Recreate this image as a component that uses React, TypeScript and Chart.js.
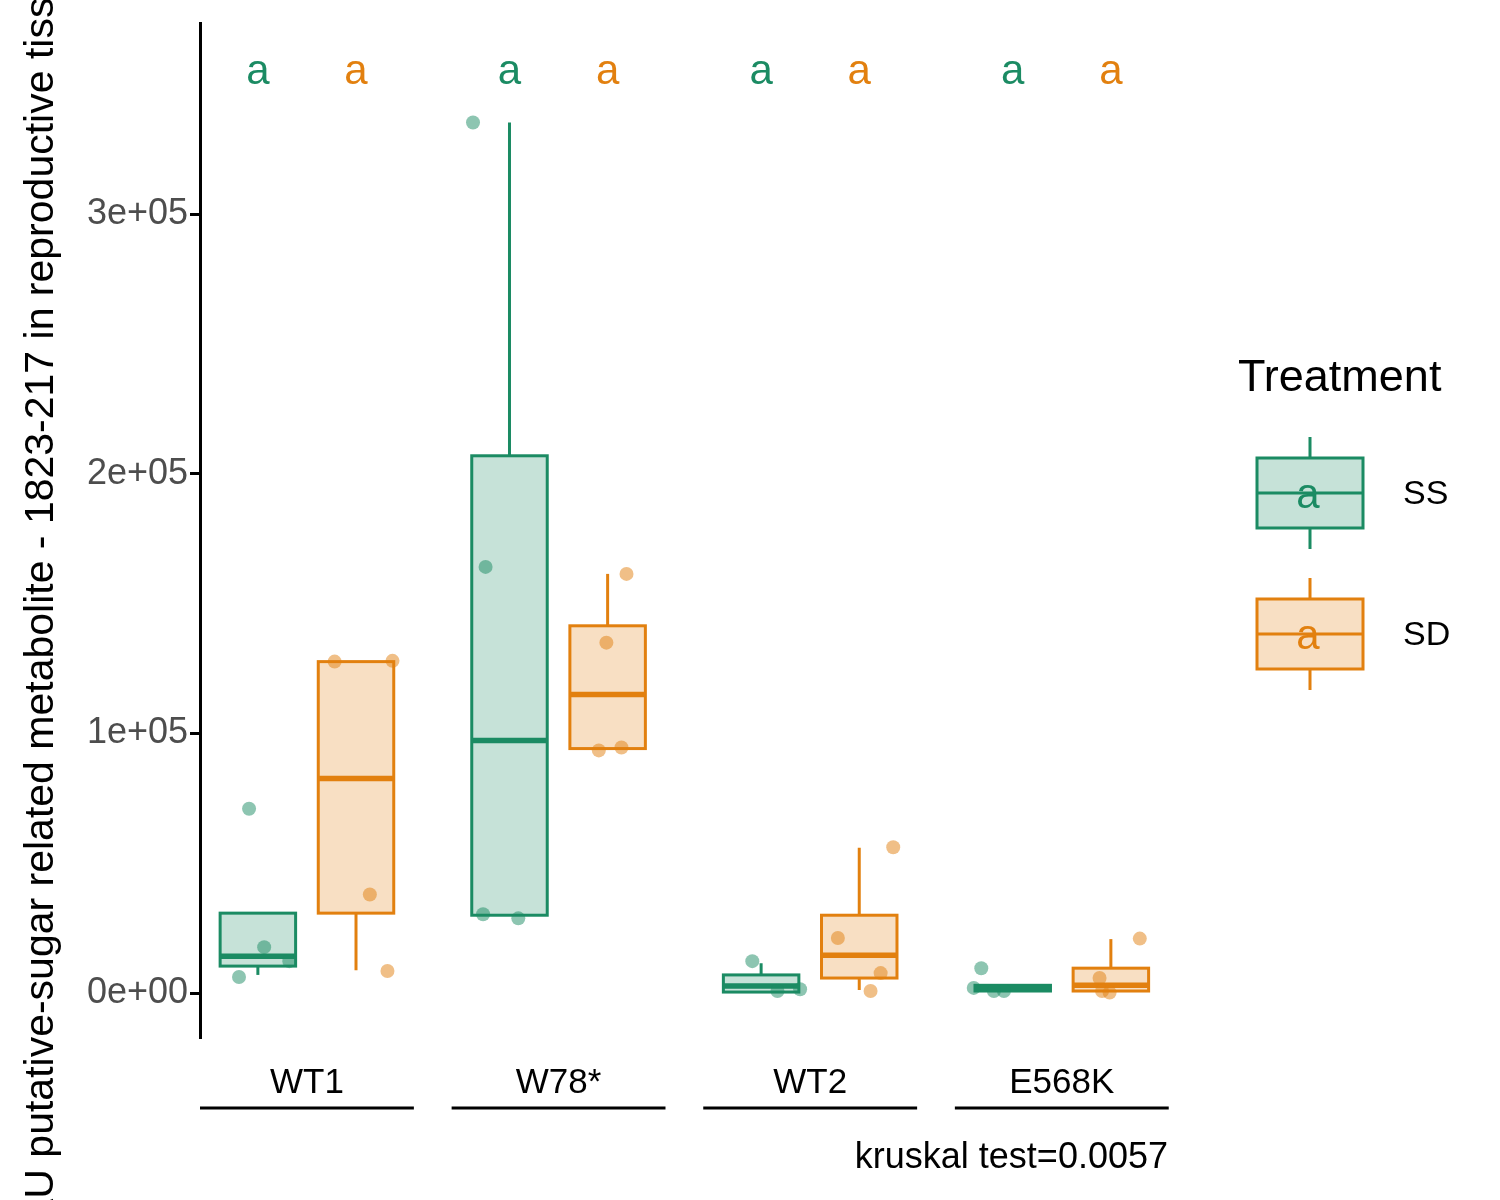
import React, { useEffect, useRef } from "react";
import { Chart, registerables } from "chart.js";
Chart.register(...registerables);

const groups = ["WT1", "W78*", "WT2", "E568K"];
const treatments = ["SS", "SD"];
const colors = ["#1B8B63", "#E2800F"];
const fills = ["rgba(27,139,99,0.25)", "rgba(226,128,15,0.25)"];
const pointColors = ["rgba(27,139,99,0.5)", "rgba(226,128,15,0.5)"];
const offsets = [-0.195, 0.195];

const ssMin = [7000, 30000, 400, 800];
const ssQ1 = [10400, 30000, 400, 800];
const ssMed = [14200, 97300, 2700, 2000];
const ssQ3 = [30800, 207000, 7000, 3000];
const ssMax = [30800, 335400, 11500, 3000];
const sdMin = [8800, 94200, 1200, 800];
const sdQ1 = [30800, 94200, 5800, 800];
const sdMed = [82700, 115000, 14600, 3000];
const sdQ3 = [127700, 141500, 30000, 9600];
const sdMax = [127700, 161500, 56000, 20800];

const ssPointsX = [0.77, 0.83, 0.73, 0.93, 1.66, 1.71, 1.70, 1.84, 2.77, 2.87, 2.96, 3.68, 3.65, 3.77, 3.73];
const ssPointsY = [71000, 17700, 6200, 12300, 335400, 164200, 30400, 28800, 12300, 800, 1500, 9600, 2000, 800, 800];
const sdPointsX = [1.11, 1.34, 1.25, 1.32, 2.27, 2.19, 2.16, 2.25, 3.33, 3.11, 3.28, 3.24, 4.31, 4.15, 4.16, 4.19];
const sdPointsY = [127700, 128000, 38000, 8500, 161500, 135000, 93500, 94600, 56200, 21200, 7700, 800, 21000, 5800, 800, 200];

const letters = ["a", "a", "a", "a", "a", "a", "a", "a"];
const yTicks = [0, 100000, 200000, 300000];
const yTitle = "AU putative-sugar related metabolite - 1823-217 in reproductive tissue";
const FONT = "Liberation Sans, Arial, sans-serif";

export default function App() {
  const ref = useRef<HTMLCanvasElement>(null);
  useEffect(() => {
    const stats = [
      [ssMin, ssQ1, ssMed, ssQ3, ssMax],
      [sdMin, sdQ1, sdMed, sdQ3, sdMax],
    ];
    const boxPlugin = {
      id: "boxes",
      beforeDatasetsDraw(chart: any) {
        const { ctx, scales } = chart;
        const x = scales.x, y = scales.y;
        const half = 0.15 * (x.getPixelForValue(1) - x.getPixelForValue(0));
        stats.forEach((s, t) => {
          groups.forEach((_, i) => {
            const cx = x.getPixelForValue(i + 1 + offsets[t]);
            const [mn, q1, md, q3, mx] = s.map((a) => y.getPixelForValue(a[i]));
            ctx.save();
            ctx.strokeStyle = colors[t];
            ctx.lineWidth = 3;
            ctx.beginPath();
            ctx.moveTo(cx, mn); ctx.lineTo(cx, q1);
            ctx.moveTo(cx, q3); ctx.lineTo(cx, mx);
            ctx.stroke();
            ctx.fillStyle = fills[t];
            ctx.fillRect(cx - half, q3, 2 * half, q1 - q3);
            ctx.strokeRect(cx - half, q3, 2 * half, q1 - q3);
            ctx.lineWidth = 5.5;
            ctx.beginPath();
            ctx.moveTo(cx - half, md); ctx.lineTo(cx + half, md);
            ctx.stroke();
            ctx.restore();
          });
        });
      },
      afterDraw(chart: any) {
        const { ctx, scales } = chart;
        const x = scales.x;
        ctx.save();
        ctx.font = `42px ${FONT}`;
        ctx.textAlign = "center";
        ctx.textBaseline = "middle";
        groups.forEach((_, i) => {
          treatments.forEach((__, t) => {
            ctx.fillStyle = colors[t];
            ctx.fillText(letters[i * 2 + t], x.getPixelForValue(i + 1 + offsets[t]), 72);
          });
        });
        ctx.strokeStyle = "#000";
        ctx.lineWidth = 3;
        groups.forEach((_, i) => {
          const a = x.getPixelForValue(i + 1 - 0.425);
          const b = x.getPixelForValue(i + 1 + 0.425);
          ctx.beginPath(); ctx.moveTo(a, 1108); ctx.lineTo(b, 1108); ctx.stroke();
        });
        ctx.fillStyle = "#000";
        ctx.font = `36px ${FONT}`;
        ctx.textAlign = "right";
        ctx.fillText("kruskal test=0.0057", 1168, 1158);
        ctx.save();
        ctx.translate(42, 1226);
        ctx.rotate(-Math.PI / 2);
        ctx.textAlign = "left";
        ctx.font = `41px ${FONT}`;
        ctx.fillText(yTitle, 0, 0);
        ctx.restore();
        ctx.textAlign = "left";
        ctx.font = `45px ${FONT}`;
        ctx.fillText("Treatment", 1238, 379);
        const keyTops = [458, 599];
        treatments.forEach((name, t) => {
          const top = keyTops[t];
          const cx = 1310;
          ctx.strokeStyle = colors[t];
          ctx.lineWidth = 3;
          ctx.beginPath();
          ctx.moveTo(cx, top - 21); ctx.lineTo(cx, top);
          ctx.moveTo(cx, top + 70); ctx.lineTo(cx, top + 91);
          ctx.stroke();
          ctx.fillStyle = fills[t];
          ctx.fillRect(1257, top, 106, 70);
          ctx.strokeRect(1257, top, 106, 70);
          ctx.beginPath(); ctx.moveTo(1257, top + 35); ctx.lineTo(1363, top + 35); ctx.stroke();
          ctx.fillStyle = colors[t];
          ctx.textAlign = "center";
          ctx.font = `42px ${FONT}`;
          ctx.fillText("a", cx - 2, top + 38);
          ctx.fillStyle = "#000";
          ctx.textAlign = "left";
          ctx.font = `34px ${FONT}`;
          ctx.fillText(name, 1403, top + 37);
        });
        ctx.restore();
      },
    };
    const chart = new Chart(ref.current!, {
      type: "scatter",
      data: {
        datasets: [
          { label: "SS", data: ssPointsX.map((v, i) => ({ x: v, y: ssPointsY[i] })), backgroundColor: pointColors[0], borderWidth: 0, pointRadius: 7 },
          { label: "SD", data: sdPointsX.map((v, i) => ({ x: v, y: sdPointsY[i] })), backgroundColor: pointColors[1], borderWidth: 0, pointRadius: 7 },
        ],
      },
      options: {
        responsive: false,
        animation: false,
        layout: { padding: { left: 0, right: 330, top: 22, bottom: 0 } },
        plugins: { legend: { display: false }, tooltip: { enabled: false } },
        scales: {
          x: {
            type: "linear",
            min: 0.575,
            max: 4.43,
            border: { display: false },
            grid: { display: false },
            afterBuildTicks: (s: any) => { s.ticks = groups.map((_, i) => ({ value: i + 1 })); },
            afterFit: (s: any) => { s.height = 162; },
            ticks: {
              autoSkip: false,
              maxRotation: 0,
              padding: 16,
              color: "#000",
              font: { size: 35, family: FONT },
              callback: (v: any) => groups[Math.round(v) - 1] ?? "",
            },
          },
          y: {
            min: -17300,
            max: 373500,
            border: { display: true, color: "#000", width: 3 },
            grid: { drawOnChartArea: false, drawTicks: true, tickLength: 10, tickColor: "#000", tickWidth: 3 },
            afterBuildTicks: (s: any) => { s.ticks = yTicks.map((v) => ({ value: v })); },
            afterFit: (s: any) => { s.width = 200; },
            ticks: {
              padding: 2,
              color: "#4D4D4D",
              font: { size: 36, family: FONT },
              callback: (v: any) => (v === 0 ? "0e+00" : `${v / 100000}e+05`),
            },
          },
        },
      },
      plugins: [boxPlugin],
    });
    return () => chart.destroy();
  }, []);
  return (
    <div style={{ position: "absolute", left: 0, top: 0, background: "#fff" }}>
      <canvas ref={ref} width={1500} height={1200} />
    </div>
  );
}
